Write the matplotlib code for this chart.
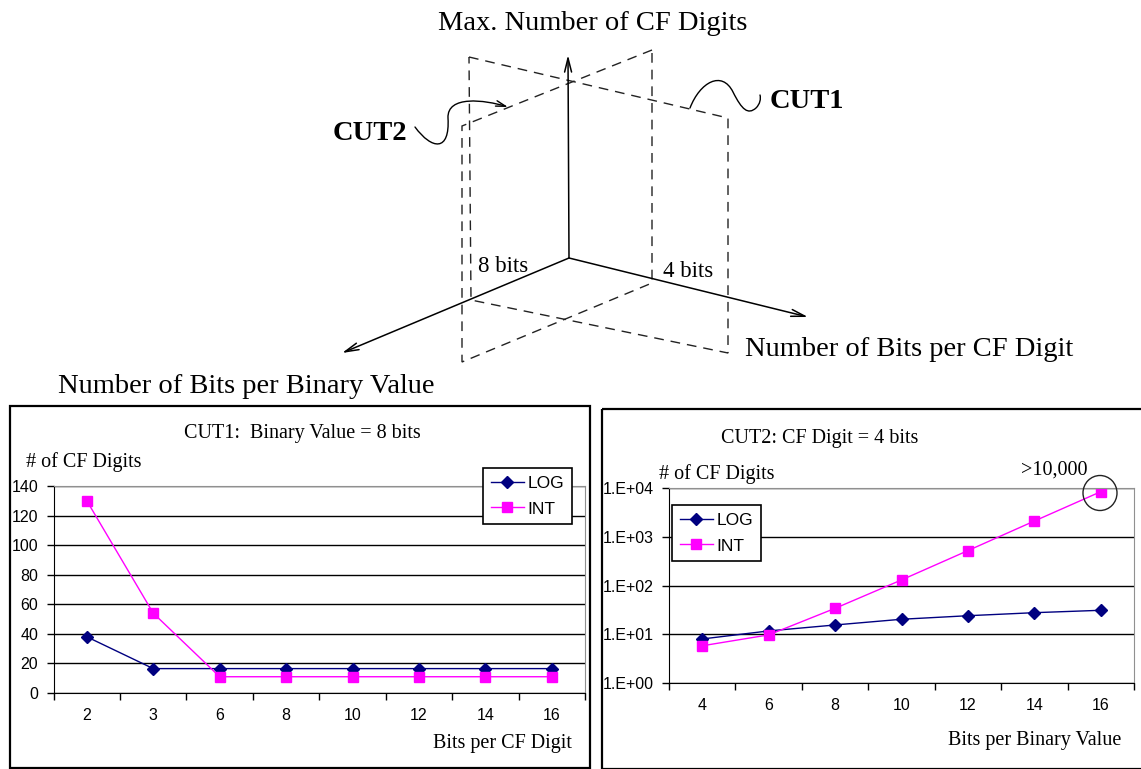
import numpy as np
import matplotlib
matplotlib.use("Agg")
from matplotlib import pyplot as plt
from matplotlib.path import Path
from matplotlib.patches import Polygon, Rectangle, Ellipse, FancyArrowPatch

# CUT1: binary value = 8 bits
cut1_bits = ["2", "3", "6", "8", "10", "12", "14", "16"]
cut1_log = [38, 16.5, 16.5, 16.5, 16.5, 16.5, 16.5, 16.5]
cut1_int = [130, 54, 11, 11, 11, 11, 11, 11]
cut1_yticks = [0, 20, 40, 60, 80, 100, 120, 140]

# CUT2: CF digit = 4 bits
cut2_bits = ["4", "6", "8", "10", "12", "14", "16"]
cut2_log = [8, 11.7, 15.5, 20.3, 24, 27.7, 31]
cut2_int = [5.8, 9.7, 34, 130, 520, 2100, 8400]
cut2_yticks = [1, 10, 100, 1000, 10000]

W, H = 1141, 769
SERIF = "Liberation Serif"
SANS = "Liberation Sans"
NAVY = "#000080"
MAGENTA = "#FF00FF"


def fig_box(x0, y0, x1, y1):
    # pixel box (top-left origin) -> figure fraction rect
    return [x0 / W, 1 - y1 / H, (x1 - x0) / W, (y1 - y0) / H]


def style_chart(ax, n):
    ax.set_xlim(-0.5, n - 0.5)
    ax.set_xticks(np.arange(-0.5, n, 1))
    ax.set_xticklabels([])
    ax.tick_params(axis="x", which="major", direction="out", length=5, width=1)
    ax.tick_params(axis="x", which="minor", length=0, pad=11)
    ax.tick_params(axis="y", which="major", direction="out", length=5, width=1, pad=6)
    ax.tick_params(which="both", labelsize=11.5)
    for lab in ax.get_xticklabels(minor=True) + ax.get_yticklabels():
        lab.set_fontfamily(SANS)
    ax.spines["top"].set_color("#909090")
    ax.spines["right"].set_color("#909090")
    ax.spines["left"].set_color("black")
    ax.spines["bottom"].set_color("black")
    ax.grid(axis="y", which="major", color="black", lw=1)
    ax.set_axisbelow(True)


def add_legend(ax, x0, y0):
    leg = ax.legend(loc="upper left", bbox_to_anchor=(x0 / W, 1 - y0 / H),
                    bbox_transform=plt.gcf().transFigure, fancybox=False,
                    framealpha=1, edgecolor="black", handlelength=1.9,
                    handletextpad=0.2, borderpad=0.45, labelspacing=0.6,
                    borderaxespad=0, prop={"family": SANS, "size": 12.5})
    leg.get_frame().set_linewidth(1.2)


def main():
    fig = plt.figure(figsize=(W / 100, H / 100), dpi=100)

    # ---- left chart (CUT1)
    ax1 = fig.add_axes(fig_box(53.6, 486, 585, 693))
    x1 = np.arange(len(cut1_bits))
    ax1.plot(x1, cut1_log, color=NAVY, lw=1, marker="D", ms=6, label="LOG")
    ax1.plot(x1, cut1_int, color=MAGENTA, lw=1, marker="s", ms=7, label="INT")
    ax1.set_ylim(0, 140)
    ax1.set_yticks(cut1_yticks)
    ax1.set_xticks(x1, minor=True)
    ax1.set_xticklabels(cut1_bits, minor=True)
    style_chart(ax1, len(cut1_bits))
    add_legend(ax1, 483, 468)

    # ---- right chart (CUT2)
    ax2 = fig.add_axes(fig_box(669, 488, 1134, 683))
    x2 = np.arange(len(cut2_bits))
    ax2.plot(x2, cut2_log, color=NAVY, lw=1, marker="D", ms=6, label="LOG")
    ax2.plot(x2, cut2_int, color=MAGENTA, lw=1, marker="s", ms=7, label="INT")
    ax2.set_yscale("log")
    ax2.set_ylim(1, 10000)
    ax2.set_yticks(cut2_yticks)
    ax2.set_yticklabels(["1.E+%02d" % int(np.log10(v)) for v in cut2_yticks])
    ax2.yaxis.set_minor_locator(matplotlib.ticker.NullLocator())
    ax2.set_xticks(x2, minor=True)
    ax2.set_xticklabels(cut2_bits, minor=True)
    style_chart(ax2, len(cut2_bits))
    add_legend(ax2, 672, 505)

    # ---- overlay in pixel coords: 3D sketch, panel frames, captions
    ov = fig.add_axes([0, 0, 1, 1], zorder=10)
    ov.set_xlim(0, W)
    ov.set_ylim(H, 0)
    ov.patch.set_alpha(0)
    ov.axis("off")

    origin = (569, 258)
    for tip in [(568, 55), (808, 317), (342, 353)]:
        ov.annotate("", xy=tip, xytext=origin,
                    arrowprops=dict(arrowstyle="->,head_length=1.0,head_width=0.25",
                                    lw=1.1, color="black", shrinkA=0, shrinkB=0))

    dash = (0, (7, 5))
    plane_a = [(469, 57), (728, 118), (728, 353), (471, 300)]
    plane_b = [(652, 50), (462, 126), (462, 362), (652, 283)]
    for pts in (plane_a, plane_b):
        ov.add_patch(Polygon(pts, closed=True, fill=False, ls=dash,
                             lw=1, edgecolor="#222222"))

    # CUT2 squiggle with arrow
    cut2_path = Path([(415, 127), (432, 150), (450, 152), (448, 118),
                      (447, 95), (485, 100), (508, 107)],
                     [Path.MOVETO, Path.CURVE4, Path.CURVE4, Path.CURVE4,
                      Path.CURVE4, Path.CURVE4, Path.CURVE4])
    ov.add_patch(FancyArrowPatch(path=cut2_path, arrowstyle="->,head_length=7,head_width=2",
                                 lw=1, color="black"))
    # CUT1 squiggle
    cut1_path = Path([(690, 108), (700, 82), (722, 70), (733, 92),
                      (742, 110), (748, 115), (756, 108),
                      (760, 104), (761, 99), (760, 95)],
                     [Path.MOVETO, Path.CURVE4, Path.CURVE4, Path.CURVE4,
                      Path.CURVE4, Path.CURVE4, Path.CURVE4,
                      Path.CURVE4, Path.CURVE4, Path.CURVE4])
    ov.add_patch(FancyArrowPatch(path=cut1_path, arrowstyle="-", lw=1, color="black"))

    big = dict(family=SERIF, fontsize=20.5, va="baseline")
    ov.text(592.5, 30, "Max. Number of CF Digits", ha="center", **big)
    ov.text(745, 356, "Number of Bits per CF Digit", ha="left", **big)
    ov.text(58, 393, "Number of Bits per Binary Value", ha="left", **big)
    ov.text(333, 140, "CUT2", ha="left", fontweight="bold", **big)
    ov.text(770, 108, "CUT1", ha="left", fontweight="bold", **big)
    ov.text(478, 272, "8 bits", ha="left", family=SERIF, fontsize=16.5, va="baseline")
    ov.text(663, 277, "4 bits", ha="left", family=SERIF, fontsize=16.5, va="baseline")

    # panel frames
    ov.add_patch(Rectangle((10, 406), 580, 362, fill=False, lw=1.6, edgecolor="black"))
    ov.add_patch(Rectangle((602, 409), 545, 360, fill=False, lw=1.6, edgecolor="black"))

    small = dict(family=SERIF, fontsize=14.5, va="baseline")
    ov.text(302, 438, "CUT1:  Binary Value = 8 bits", ha="center", **small)
    ov.text(26, 467, "# of CF Digits", ha="left", **small)
    ov.text(572, 748, "Bits per CF Digit", ha="right", **small)
    ov.text(820, 443, "CUT2: CF Digit = 4 bits", ha="center", **small)
    ov.text(659, 479, "# of CF Digits", ha="left", **small)
    ov.text(1021, 475, ">10,000", ha="left", **small)
    ov.text(1121, 745, "Bits per Binary Value", ha="right", **small)
    ov.add_patch(Ellipse((1100, 493), 34, 35, fill=False, lw=1, edgecolor="#222222"))

    fig.savefig("out.png", dpi=100)


if __name__ == "__main__":
    main()
